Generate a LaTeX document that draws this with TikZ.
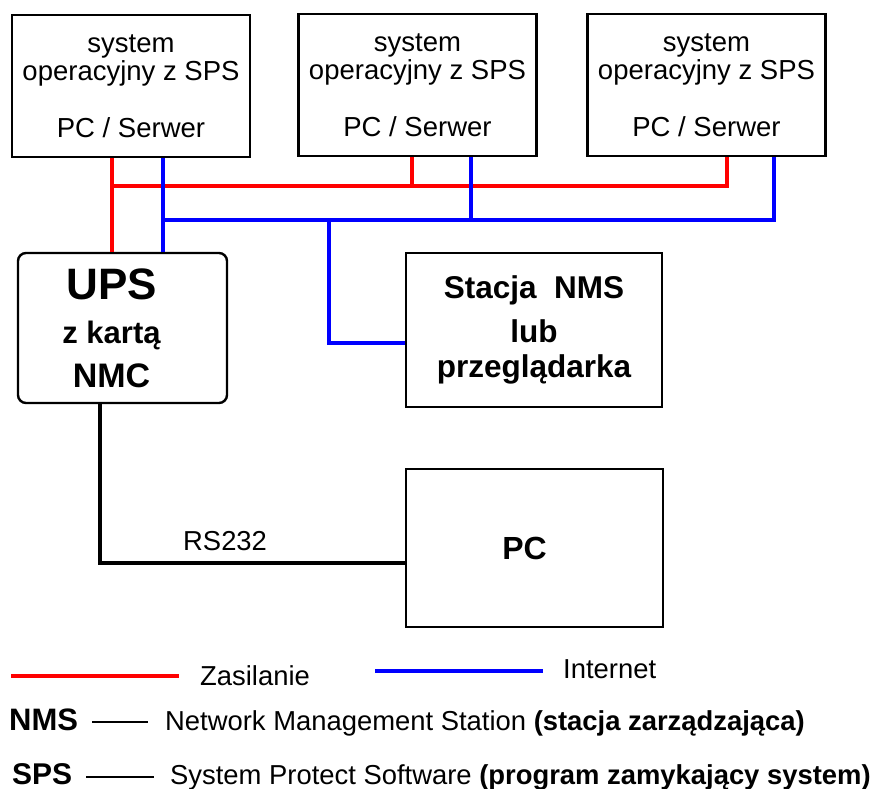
\documentclass[tikz,border=0pt]{standalone}
\usepackage{fontspec}
\setmainfont{Liberation Sans}
\usetikzlibrary{positioning, calc}

\begin{document}
\begin{tikzpicture}[x=1pt, y=-1pt,
    box/.style={draw, line width=2.4pt, inner sep=0pt, align=center},
    srvbox/.style={box, minimum width=238pt, minimum height=142pt, font=\fontsize{27.5}{28.5}\selectfont},
    zas/.style={red, line width=4pt},
    net/.style={blue, line width=4pt},
    rsline/.style={black, line width=4pt},
    txt/.style={inner sep=0pt, anchor=base west, font=\fontsize{27.4}{30}\selectfont}]
        \useasboundingbox (0,0) rectangle (871,789);

        % Computers with SPS
        \node[srvbox] (srv1) at (131,86) {system\\operacyjny z SPS\\[28.5pt]PC / Serwer};
        \node[srvbox] (srv2) at (417.5,85) {system\\operacyjny z SPS\\[28.5pt]PC / Serwer};
        \node[srvbox] (srv3) at (706.5,85) {system\\operacyjny z SPS\\[28.5pt]PC / Serwer};

        % UPS, NMS station and PC
        \node[box, rounded corners=8pt, minimum width=209pt, minimum height=150pt,
              font=\bfseries\fontsize{31}{44}\selectfont] (ups) at (122.5,328)
              {\hspace*{-22pt}{\fontsize{44}{44}\selectfont UPS}\\\hspace*{-22pt}z kartą\\\hspace*{-22pt}{\fontsize{34}{44}\selectfont NMC}};
        \node[box, minimum width=256pt, minimum height=154pt,
              font=\bfseries\fontsize{31.5}{44}\selectfont] (nms) at (534,330)
              {Stacja\ \ NMS\\lub\\[-9pt]przeglądarka};
        \node[box, minimum width=257pt, minimum height=158pt,
              font=\bfseries\fontsize{32}{36}\selectfont] (pc) at (534.5,548) {PC\hspace*{20pt}};

        % Junctions of the power line
        \coordinate (r1) at (112,186);
        \coordinate (r2) at (412,186);
        \coordinate (r3) at (727,186);

        % Junctions of the network line
        \coordinate (b1) at (163,220);
        \coordinate (b2) at (471,220);
        \coordinate (b3) at (774,220);
        \coordinate (b4) at (329,220);
        \coordinate (b5) at (329,343);

        % Power (red)
        \draw[zas] (srv1.south -| r1) -- (ups.north -| r1);
        \draw[zas] (r1) -- (r3) -- (srv3.south -| r3);
        \draw[zas] (srv2.south -| r2) -- (r2);

        % Network (blue)
        \draw[net] (srv1.south -| b1) -- (ups.north -| b1);
        \draw[net] (b1) -- (b3) -- (srv3.south -| b3);
        \draw[net] (srv2.south -| b2) -- (b2);
        \draw[net] (b4) -- (b5) -- (nms.west |- b5);

        % Serial link
        \coordinate (k1) at (100,563);
        \draw[rsline] (ups.south -| k1) -- (k1) -- (pc.west |- k1);
        \node[txt] (rslbl) at (183,550) {RS232};

        % Legend
        \coordinate (lz1) at (11,676);
        \coordinate (lz2) at (179,676);
        \draw[zas] (lz1) -- (lz2);
        \node[txt] (lzas) at (200,685) {Zasilanie};

        \coordinate (ln1) at (375,671);
        \coordinate (ln2) at (543,671);
        \draw[net] (ln1) -- (ln2);
        \node[txt] (lnet) at (563,678) {Internet};

        \node[txt, font=\bfseries\fontsize{31}{34}\selectfont] (nmsabbr) at (9,730) {NMS};
        \coordinate (d1) at (92,722);
        \coordinate (d2) at (148,722);
        \draw[line width=1.6pt] (d1) -- (d2);
        \node[txt] (nmsdesc) at (165,730) {Network Management Station \textbf{(stacja zarządzająca)}};

        \node[txt, font=\bfseries\fontsize{30}{34}\selectfont] (spsabbr) at (12,784) {SPS};
        \coordinate (d3) at (86,777);
        \coordinate (d4) at (154,777);
        \draw[line width=1.6pt] (d3) -- (d4);
        \node[txt] (spsdesc) at (170,784) {System Protect Software \textbf{(program zamykający system)}};
\end{tikzpicture}
\end{document}
